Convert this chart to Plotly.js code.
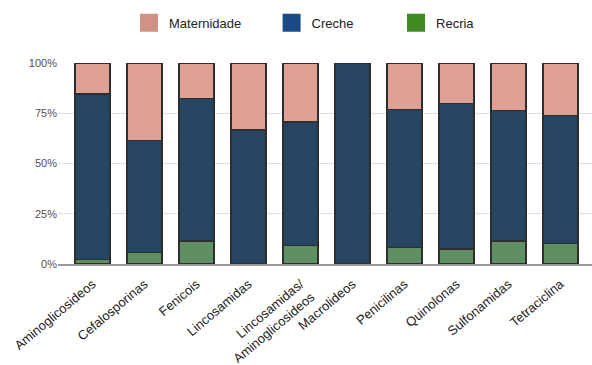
<!DOCTYPE html>
<html>
<head>
<meta charset="utf-8">
<script src="https://cdn.plot.ly/plotly-3.0.1.min.js"></script>
<style>
  html, body { margin: 0; padding: 0; background: #fff; }
  #chart { width: 592px; height: 365px; }
</style>
</head>
<body>
<div id="chart"></div>
<script>
// Antibiotic classes (x categories)
const categories = [
  'Aminoglicosideos', 'Cefalosporinas', 'Fenicois', 'Lincosamidas',
  'Lincosamidas/<br>Aminoglicosideos', 'Macrolideos', 'Penicilinas',
  'Quinolonas', 'Sulfonamidas', 'Tetraciclina'
];

// Share of use by production phase (percent of each class)
const recria      = [2.2, 5.8, 11.5, 0.0, 9.3, 0.0, 8.1, 7.5, 11.5, 10.3];
const creche      = [82.4, 55.7, 70.9, 66.6, 61.3, 100.0, 68.8, 72.4, 64.7, 63.6];
const maternidade = [15.4, 38.5, 17.6, 33.4, 29.4, 0.0, 23.1, 20.1, 23.8, 26.1];

const yTickVals = [0, 25, 50, 75, 100];
const yTickText = ['0%', '25%', '50%', '75%', '100%'];

const barLine = { color: '#2e2e2e', width: 1.3 };

function stack(name, values, color) {
  return {
    type: 'bar', name: name, x: categories, y: values,
    marker: { color: color, line: barLine },
    showlegend: false, hoverinfo: 'skip'
  };
}

// Legend-only entries, each in its own legend box
function key(name, color, legendId) {
  return {
    type: 'scatter', mode: 'markers', name: name,
    x: [null], y: [null],
    marker: { symbol: 'square', size: 16, color: color, line: { color: color, width: 2 } },
    legend: legendId, showlegend: true, hoverinfo: 'skip'
  };
}

const traces = [
  stack('Recria', recria, '#5e8f63'),
  stack('Creche', creche, '#264563'),
  stack('Maternidade', maternidade, '#e0a195'),
  key('Maternidade', '#d09383', 'legend'),
  key('Creche', '#1b4a87', 'legend2'),
  key('Recria', '#3f8a22', 'legend3')
];

const legendFont = { family: 'Liberation Sans, Arial, sans-serif', size: 13, color: '#222' };
function legendBox(x) {
  return {
    x: x, y: 1.2, xanchor: 'left', yanchor: 'middle',
    orientation: 'h', font: legendFont, bgcolor: 'rgba(0,0,0,0)',
    itemsizing: 'trace'
  };
}

const layout = {
  width: 592, height: 365,
  margin: { l: 58, r: 0, t: 63, b: 101 },
  paper_bgcolor: '#fff', plot_bgcolor: '#fff',
  barmode: 'stack', bargap: 0.33,
  showlegend: true,
  legend: legendBox(0.133),
  legend2: legendBox(0.400),
  legend3: legendBox(0.633),
  xaxis: {
    type: 'category', range: [-0.663, 9.606],
    tickangle: -40, showgrid: false,
    showline: true, linecolor: '#9a9a9a', linewidth: 1.5,
    ticks: '', zeroline: false, ticklabelstandoff: 6,
    tickfont: { family: 'Liberation Sans, Arial, sans-serif', size: 13, color: '#222' }
  },
  yaxis: {
    range: [0, 100], tickvals: yTickVals, ticktext: yTickText,
    showgrid: true, gridcolor: '#dedede', gridwidth: 1,
    zeroline: false, showline: false, ticks: '',
    tickfont: { family: 'Liberation Sans, Arial, sans-serif', size: 11, color: '#505050' }
  }
};

Plotly.newPlot('chart', traces, layout, { staticPlot: true, displayModeBar: false });
</script>
</body>
</html>
